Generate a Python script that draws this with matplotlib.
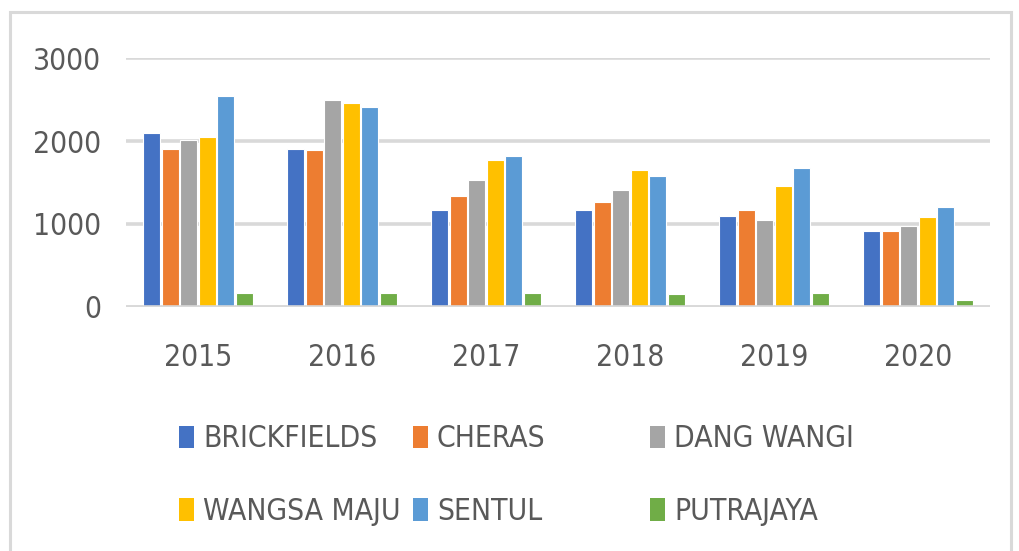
import matplotlib
matplotlib.use("Agg")
import matplotlib.pyplot as plt
from matplotlib import font_manager
from matplotlib.patches import Rectangle, Patch
import numpy as np

years = ["2015", "2016", "2017", "2018", "2019", "2020"]
series_names = ["BRICKFIELDS", "CHERAS", "DANG WANGI", "WANGSA MAJU", "SENTUL", "PUTRAJAYA"]
brickfields = [2100, 1910, 1170, 1170, 1100, 910]
cheras = [1910, 1890, 1340, 1270, 1170, 910]
dang_wangi = [2010, 2500, 1530, 1410, 1050, 980]
wangsa_maju = [2050, 2460, 1770, 1650, 1460, 1080]
sentul = [2550, 2410, 1820, 1580, 1670, 1200]
putrajaya = [170, 170, 170, 150, 170, 80]
colors = ["#4472C4", "#ED7D31", "#A5A5A5", "#FFC000", "#5B9BD5", "#70AD47"]

entries = font_manager.fontManager.ttflist
names = {f.name for f in entries}
condensed = [f for f in entries if str(f.stretch) in ("condensed", "semi-condensed", "extra-condensed", "ultra-condensed", "600", "500", "400", "300", "200", "100") and "Mono" not in f.name]
if "Liberation Sans Narrow" in names:
    fam, stretch, fs = "Liberation Sans Narrow", "normal", 23
elif condensed:
    fam, stretch, fs = condensed[0].name, condensed[0].stretch, 21.5
else:
    fam, stretch, fs = "Lato", "normal", 20
plt.rcParams["font.family"] = [fam, "DejaVu Sans"]
plt.rcParams["font.stretch"] = stretch

W, H = 1019, 551
fig = plt.figure(figsize=(W / 100, H / 100), dpi=100)
ax = fig.add_axes([126 / W, 1 - 306.7 / H, (990 - 126) / W, (306.7 - 58.3) / H])

data = [brickfields, cheras, dang_wangi, wangsa_maju, sentul, putrajaya]
x = np.arange(len(years))
pitch = 0.128
bw = 0.118
handles = []
for i, (vals, c) in enumerate(zip(data, colors)):
    off = (i - 2.5) * pitch
    ax.bar(x + off, vals, width=bw, color=c, edgecolor="white", linewidth=0.8, zorder=3)
    handles.append(Patch(facecolor=c, edgecolor="none"))

ax.set_xlim(-0.5, len(years) - 0.5)
ax.set_ylim(0, 3000)
ax.set_yticks([0, 1000, 2000, 3000])
ax.set_xticks(x)
ax.set_xticklabels(years)
ax.yaxis.grid(True, color="#D9D9D9", linewidth=2.6, zorder=0)
ax.set_axisbelow(True)
for s in ["top", "right", "left", "bottom"]:
    ax.spines[s].set_visible(False)
ax.axhline(0, color="#D9D9D9", linewidth=2.6, zorder=4)
ax.tick_params(axis="both", length=0, labelsize=fs, labelcolor="#595959")
ax.tick_params(axis="y", pad=18)
ax.tick_params(axis="x", pad=26)

# legend: three columns
cols_x = [179, 413, 650]
pairs = [(0, 3), (1, 4), (2, 5)]
for cx, (a, b) in zip(cols_x, pairs):
    fig.legend([handles[a], handles[b]], [series_names[a], series_names[b]],
               loc="center left", bbox_to_anchor=(cx / W, 1 - 475 / H),
               frameon=False, fontsize=fs, borderpad=0, borderaxespad=0,
               handlelength=0.5, handleheight=0.8, handletextpad=0.3,
               labelspacing=1.45, labelcolor="#595959")

# outer frame
fig.patches.append(Rectangle((10 / W, -0.1), (1011 - 10) / W, 1.1 - 12 / H,
                             transform=fig.transFigure, fill=False,
                             edgecolor="#D9D9D9", linewidth=2.2))

fig.savefig("out.png", dpi=100)
